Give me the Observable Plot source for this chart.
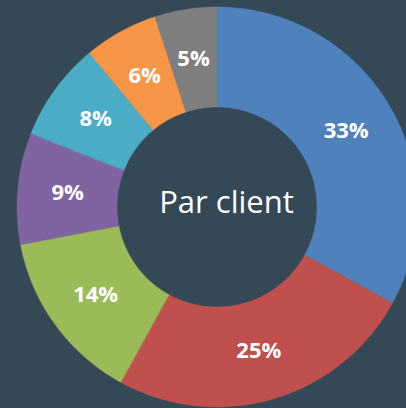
<!DOCTYPE html>
<html><head><meta charset="utf-8">
<script src="https://cdn.jsdelivr.net/npm/d3@7"></script>
<script src="https://cdn.jsdelivr.net/npm/@observablehq/plot@0.6"></script>
<style>html,body{margin:0;padding:0;background:#344856;overflow:hidden}</style>
</head><body><div id="chart"></div>
<script>
const categories = ["Client 1","Client 2","Client 3","Client 4","Client 5","Client 6","Client 7"];
const values = [33, 25, 14, 9, 8, 6, 5];
const colors = ["#4F81BD","#C0504D","#9BBB59","#8064A2","#4BACC6","#F79646","#7F7F7F"];
const centerTitle = "Par client";

const R = 200, r0 = 100, rLabel = 150;
const total = d3.sum(values);
const polys = [], labels = [];
let acc = 0;
values.forEach((v, i) => {
  const a0 = acc / total * 2 * Math.PI, a1 = (acc + v) / total * 2 * Math.PI;
  acc += v;
  const n = Math.max(4, Math.ceil(v * 2));
  const pt = (rad, a) => ({cat: categories[i], x: rad * Math.sin(a), y: -rad * Math.cos(a)});
  for (let k = 0; k <= n; k++) polys.push(pt(R, a0 + (a1 - a0) * k / n));
  for (let k = n; k >= 0; k--) polys.push(pt(r0, a0 + (a1 - a0) * k / n));
  const am = (a0 + a1) / 2;
  labels.push({cat: categories[i], x: rLabel * Math.sin(am), y: -rLabel * Math.cos(am), text: v + "%"});
});

const chart = Plot.plot({
  width: 406, height: 408, margin: 0,
  style: {background: "#344856"},
  x: {domain: [-216.5, 189.5], range: [0, 406], axis: null},
  y: {domain: [-206.5, 201.5], range: [0, 408], axis: null},
  color: {domain: categories, range: colors},
  marks: [
    Plot.line(polys, {x: "x", y: "y", z: "cat", fill: "cat", stroke: "cat", strokeWidth: 0.5, curve: "linear-closed"}),
    Plot.text(labels, {x: "x", y: "y", text: "text", fill: "white", fontWeight: "bold", fontSize: 22, fontFamily: "Open Sans"}),
    Plot.text([centerTitle], {frameAnchor: "middle", dx: 23, dy: -1, fill: "white", fontSize: 31, fontFamily: "Open Sans"})
  ]
});
document.getElementById("chart").append(chart);
</script>
</body></html>
